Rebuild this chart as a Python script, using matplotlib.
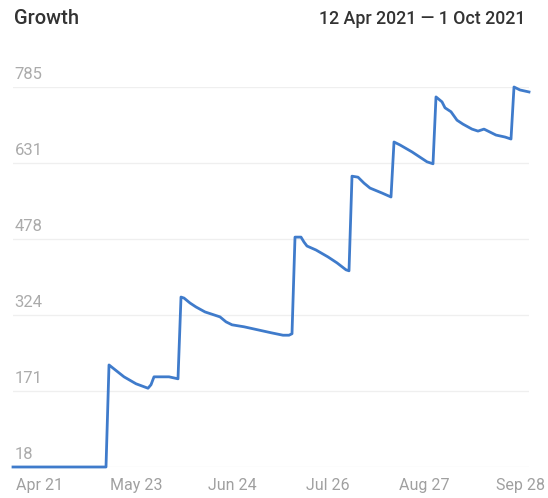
import matplotlib
matplotlib.use("Agg")
import matplotlib.pyplot as plt
import matplotlib.transforms as mtransforms
import pandas as pd

plt.rcParams['font.family'] = ['Roboto', 'DejaVu Sans']

# Follower growth readings
dates = [
    "2021-04-12", "2021-05-13", "2021-05-14", "2021-05-19", "2021-05-23",
    "2021-05-27", "2021-05-28", "2021-05-29", "2021-06-01", "2021-06-03",
    "2021-06-06", "2021-06-07", "2021-06-08", "2021-06-10", "2021-06-12",
    "2021-06-15", "2021-06-18", "2021-06-20", "2021-06-22", "2021-06-24",
    "2021-06-28", "2021-07-01", "2021-07-04", "2021-07-07", "2021-07-11",
    "2021-07-13", "2021-07-14", "2021-07-15", "2021-07-17", "2021-07-18",
    "2021-07-19", "2021-07-22", "2021-07-26", "2021-07-29", "2021-08-01",
    "2021-08-02", "2021-08-03", "2021-08-05", "2021-08-07", "2021-08-09",
    "2021-08-13", "2021-08-16", "2021-08-17", "2021-08-19", "2021-08-23",
    "2021-08-26", "2021-08-28", "2021-08-30", "2021-08-31", "2021-09-02",
    "2021-09-03", "2021-09-05", "2021-09-07", "2021-09-09", "2021-09-12",
    "2021-09-14", "2021-09-16", "2021-09-18", "2021-09-20", "2021-09-23",
    "2021-09-25", "2021-09-26", "2021-09-28", "2021-10-01",
]
values = [
    18, 18, 224, 200, 186,
    177, 184, 200, 200, 200,
    196, 361, 359, 349, 341,
    331, 325, 321, 311, 305,
    301, 297, 293, 289, 284,
    284, 287, 482, 482, 472,
    464, 456, 442, 430, 416,
    414, 605, 603, 591, 581,
    571, 563, 674, 668, 654,
    642, 634, 630, 765, 755,
    743, 735, 718, 710, 700,
    696, 700, 694, 688, 684,
    680, 785, 779, 775,
]

y_ticks = [18, 171, 324, 478, 631, 785]
y_labels = ["18", "171", "324", "478", "631", "785"]
x_ticks = ["2021-04-21", "2021-05-23", "2021-06-24", "2021-07-26", "2021-08-27", "2021-09-28"]
x_labels = ["Apr 21", "May 23", "Jun 24", "Jul 26", "Aug 27", "Sep 28"]

title = "Growth"
date_range = "12 Apr 2021 \u2014 1 Oct 2021"

W, H = 548, 498
fig = plt.figure(figsize=(W / 100, H / 100), dpi=100)
fig.patch.set_facecolor("white")

left_px, right_px, top_px, bottom_px = 13, 529, 87, 467
ax = fig.add_axes([left_px / W, 1 - bottom_px / H,
                   (right_px - left_px) / W, (bottom_px - top_px) / H])

x = pd.to_datetime(dates)
ax.plot(x, values, color="#3f7bcb", lw=2.0, solid_joinstyle="round",
        clip_on=False, zorder=3)

ax.set_xlim(pd.Timestamp("2021-04-12"), pd.Timestamp("2021-10-01"))
ax.set_ylim(y_ticks[0], y_ticks[-1])

# horizontal guides with labels sitting just above them
ax.set_yticks(y_ticks)
ax.set_yticklabels([])
ax.tick_params(axis="y", length=0)
ax.grid(axis="y", color="#efefef", lw=0.9, zorder=0)
ax.grid(axis="x", visible=False)
label_tf = mtransforms.offset_copy(ax.get_yaxis_transform(), fig=fig,
                                  x=1.5, y=8.5, units="dots")
for v, lab in zip(y_ticks, y_labels):
    ax.text(0, v, lab, transform=label_tf, ha="left", va="baseline",
            fontsize=12, color="#ababab")

ax.set_xticks(pd.to_datetime(x_ticks))
ax.set_xticklabels(x_labels)
ax.tick_params(axis="x", length=0, pad=8, labelsize=11.5, labelcolor="#a0a0a0")

for s in ax.spines.values():
    s.set_visible(False)

fig.text(14 / W, 1 - 19 / H, title, ha="left", va="center",
         fontsize=14.5, color="#333333", fontweight="medium")
fig.text(525 / W, 1 - 19 / H, date_range, ha="right", va="center",
         fontsize=12.8, color="#333333", fontweight="medium")

fig.savefig("out.png", dpi=100, facecolor="white")
